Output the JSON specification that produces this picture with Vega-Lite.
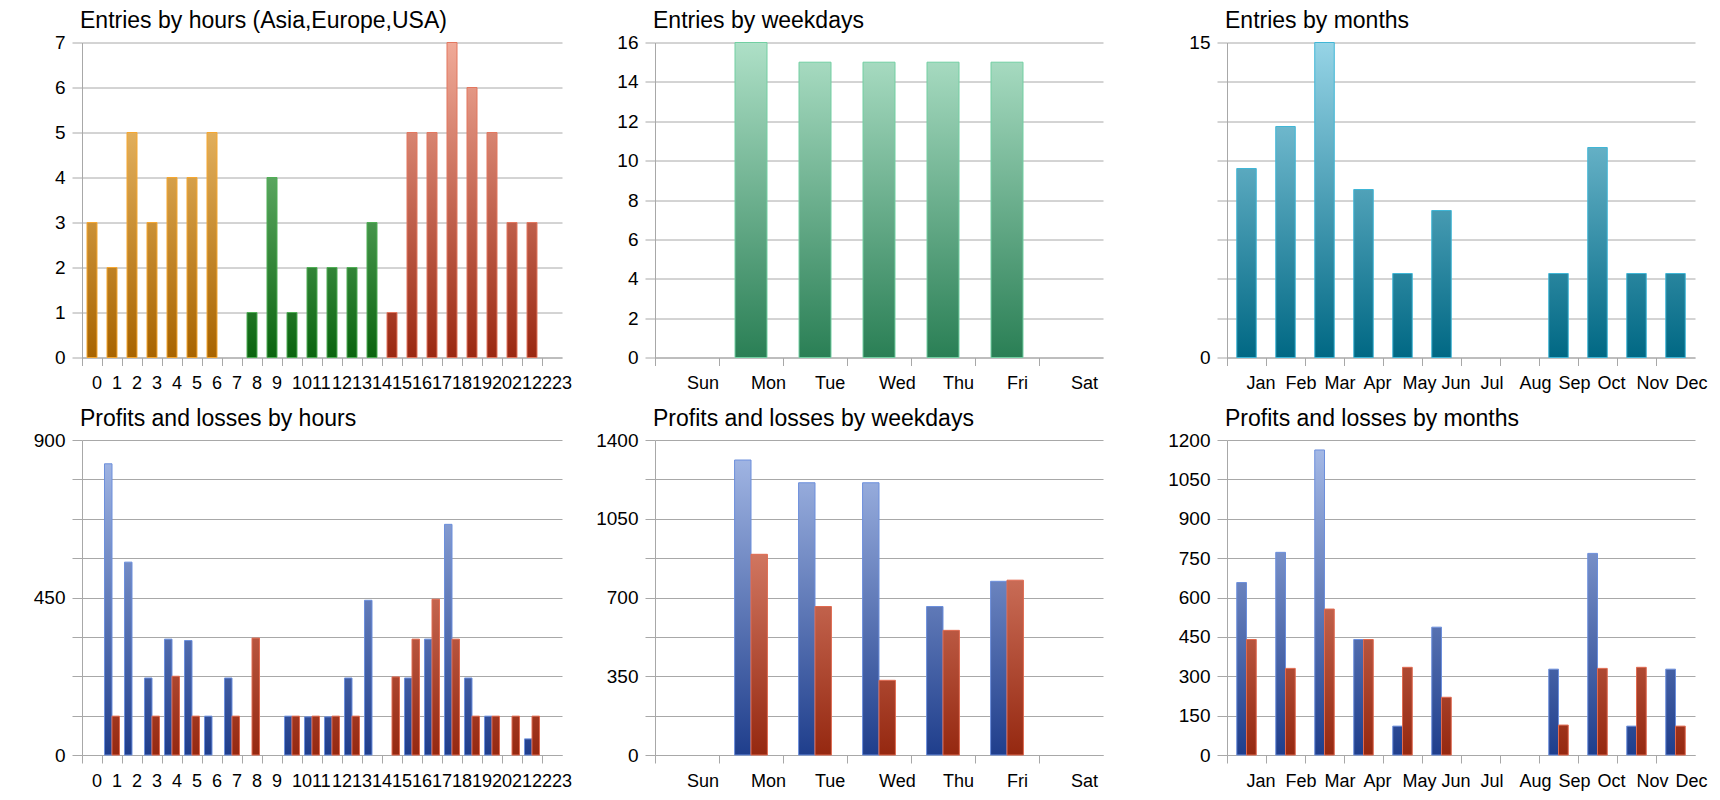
{
  "$schema": "https://vega.github.io/schema/vega-lite/v6.json",
  "background": "white",
  "padding": {"left": 0, "top": 9.5, "right": 0, "bottom": 0},
  "autosize": {"type": "pad"},
  "columns": 3,
  "spacing": {"row": 9.5, "column": 10},
  "align": "each",
  "bounds": "full",
  "resolve": {"scale": {"stroke": "independent", "xOffset": "independent"}},
  "config": {
    "view": {"stroke": null},
    "font": "Liberation Sans",
    "axis": {
      "labelFont": "Liberation Sans",
      "labelColor": "#000000",
      "gridColor": "#a8a8a8",
      "domainColor": "#a8a8a8",
      "tickColor": "#a8a8a8",
      "gridWidth": 1,
      "domainWidth": 1,
      "tickWidth": 1
    },
    "title": {
      "font": "Liberation Sans",
      "fontSize": 23,
      "fontWeight": "normal",
      "color": "#000000",
      "anchor": "start",
      "frame": "group",
      "baseline": "alphabetic",
      "offset": 0.5,
      "dx": -2
    }
  },
  "concat": [
    {
      "title": "Entries by hours (Asia,Europe,USA)",
      "width": 480,
      "height": 315,
      "data": {"values": [
        {"hour": 0, "entries": 3, "region": "Asia"},
        {"hour": 1, "entries": 2, "region": "Asia"},
        {"hour": 2, "entries": 5, "region": "Asia"},
        {"hour": 3, "entries": 3, "region": "Asia"},
        {"hour": 4, "entries": 4, "region": "Asia"},
        {"hour": 5, "entries": 4, "region": "Asia"},
        {"hour": 6, "entries": 5, "region": "Asia"},
        {"hour": 7, "entries": 0, "region": "Europe"},
        {"hour": 8, "entries": 1, "region": "Europe"},
        {"hour": 9, "entries": 4, "region": "Europe"},
        {"hour": 10, "entries": 1, "region": "Europe"},
        {"hour": 11, "entries": 2, "region": "Europe"},
        {"hour": 12, "entries": 2, "region": "Europe"},
        {"hour": 13, "entries": 2, "region": "Europe"},
        {"hour": 14, "entries": 3, "region": "Europe"},
        {"hour": 15, "entries": 1, "region": "USA"},
        {"hour": 16, "entries": 5, "region": "USA"},
        {"hour": 17, "entries": 5, "region": "USA"},
        {"hour": 18, "entries": 7, "region": "USA"},
        {"hour": 19, "entries": 6, "region": "USA"},
        {"hour": 20, "entries": 5, "region": "USA"},
        {"hour": 21, "entries": 3, "region": "USA"},
        {"hour": 22, "entries": 3, "region": "USA"},
        {"hour": 23, "entries": 0, "region": "USA"}
      ]},
      "transform": [{"filter": "datum.entries > 0"}],
      "mark": {
        "type": "bar",
        "width": {"band": 0.5},
        "strokeWidth": 1,
        "fill": {"expr": "{gradient: 'linear', x1: 0, x2: 0, y1: 1 - 7 / datum.entries, y2: 1, stops: datum.region == 'Asia' ? [{offset: 0, color: '#f8cc80'}, {offset: 1, color: '#a86400'}] : datum.region == 'Europe' ? [{offset: 0, color: '#95d69b'}, {offset: 1, color: '#0b640f'}] : [{offset: 0, color: '#f0aa98'}, {offset: 1, color: '#9a2812'}]}"}
      },
      "encoding": {
        "x": {
          "field": "hour", "type": "ordinal",
          "scale": {"domain": [0,1,2,3,4,5,6,7,8,9,10,11,12,13,14,15,16,17,18,19,20,21,22,23], "paddingInner": 0, "paddingOuter": 0},
          "axis": {"title": null, "bandPosition": 0, "labelAlign": "left", "labelDx": 4, "labelAngle": 0, "labelOverlap": false, "labelFontSize": 18, "tickSize": 8, "labelPadding": 9, "grid": false, "minExtent": 40}
        },
        "y": {
          "field": "entries", "type": "quantitative",
          "scale": {"domain": [0, 7], "nice": false},
          "axis": {"title": null, "values": [0,1,2,3,4,5,6,7], "format": "d", "labelFontSize": 19, "tickSize": 10, "labelPadding": 7, "minExtent": 82}
        },
        "stroke": {
          "field": "region", "type": "nominal",
          "scale": {"domain": ["Asia", "Europe", "USA"], "range": ["#f5a731", "#4fae55", "#e3775f"]},
          "legend": null
        }
      }
    },
    {
      "title": "Entries by weekdays",
      "width": 448,
      "height": 315,
      "data": {"values": [
        {"day": "Sun", "entries": 0},
        {"day": "Mon", "entries": 16},
        {"day": "Tue", "entries": 15},
        {"day": "Wed", "entries": 15},
        {"day": "Thu", "entries": 15},
        {"day": "Fri", "entries": 15},
        {"day": "Sat", "entries": 0}
      ]},
      "transform": [{"filter": "datum.entries > 0"}],
      "mark": {
        "type": "bar",
        "width": {"band": 0.5},
        "strokeWidth": 1,
        "stroke": "#72cfa2",
        "fill": {"expr": "{gradient: 'linear', x1: 0, x2: 0, y1: 1 - 16 / datum.entries, y2: 1, stops: [{offset: 0, color: '#aee0c7'}, {offset: 1, color: '#2a7f55'}]}"}
      },
      "encoding": {
        "x": {
          "field": "day", "type": "ordinal",
          "scale": {"domain": ["Sun", "Mon", "Tue", "Wed", "Thu", "Fri", "Sat"], "paddingInner": 0, "paddingOuter": 0},
          "axis": {"title": null, "bandPosition": 0, "labelAlign": "left", "labelDx": 18, "labelAngle": 0, "labelOverlap": false, "labelFontSize": 18, "tickSize": 8, "labelPadding": 9, "grid": false, "minExtent": 40}
        },
        "y": {
          "field": "entries", "type": "quantitative",
          "scale": {"domain": [0, 16], "nice": false},
          "axis": {"title": null, "values": [0,2,4,6,8,10,12,14,16], "format": "d", "labelFontSize": 19, "tickSize": 10, "labelPadding": 7, "minExtent": 73}
        }
      }
    },
    {
      "title": "Entries by months",
      "width": 468,
      "height": 315,
      "data": {"values": [
        {"month": "Jan", "entries": 9},
        {"month": "Feb", "entries": 11},
        {"month": "Mar", "entries": 15},
        {"month": "Apr", "entries": 8},
        {"month": "May", "entries": 4},
        {"month": "Jun", "entries": 7},
        {"month": "Jul", "entries": 0},
        {"month": "Aug", "entries": 0},
        {"month": "Sep", "entries": 4},
        {"month": "Oct", "entries": 10},
        {"month": "Nov", "entries": 4},
        {"month": "Dec", "entries": 4}
      ]},
      "transform": [{"filter": "datum.entries > 0"}],
      "mark": {
        "type": "bar",
        "width": {"band": 0.5},
        "strokeWidth": 1,
        "stroke": "#40b6d6",
        "fill": {"expr": "{gradient: 'linear', x1: 0, x2: 0, y1: 1 - 15 / datum.entries, y2: 1, stops: [{offset: 0, color: '#96d4e6'}, {offset: 1, color: '#006884'}]}"}
      },
      "encoding": {
        "x": {
          "field": "month", "type": "ordinal",
          "scale": {"domain": ["Jan", "Feb", "Mar", "Apr", "May", "Jun", "Jul", "Aug", "Sep", "Oct", "Nov", "Dec"], "paddingInner": 0, "paddingOuter": 0},
          "axis": {"title": null, "bandPosition": 0, "labelAlign": "left", "labelDx": 12, "labelAngle": 0, "labelOverlap": false, "labelFontSize": 18, "tickSize": 8, "labelPadding": 9, "grid": false, "minExtent": 40}
        },
        "y": {
          "field": "entries", "type": "quantitative",
          "scale": {"domain": [0, 15], "nice": false},
          "axis": {"title": null, "values": [0,1.875,3.75,5.625,7.5,9.375,11.25,13.125,15], "labelExpr": "datum.value == 0 || datum.value == 15 ? format(datum.value, 'd') : ''", "labelFontSize": 19, "tickSize": 10, "labelPadding": 7, "minExtent": 113.5}
        }
      }
    },
    {
      "title": "Profits and losses by hours",
      "width": 480,
      "height": 315,
      "data": {"values": [
        {"hour": 1, "type": "profit", "amount": 832},
        {"hour": 1, "type": "loss", "amount": 111},
        {"hour": 2, "type": "profit", "amount": 551},
        {"hour": 3, "type": "profit", "amount": 220},
        {"hour": 3, "type": "loss", "amount": 111},
        {"hour": 4, "type": "profit", "amount": 331},
        {"hour": 4, "type": "loss", "amount": 225},
        {"hour": 5, "type": "profit", "amount": 327},
        {"hour": 5, "type": "loss", "amount": 111},
        {"hour": 6, "type": "profit", "amount": 111},
        {"hour": 7, "type": "profit", "amount": 220},
        {"hour": 7, "type": "loss", "amount": 111},
        {"hour": 8, "type": "loss", "amount": 334},
        {"hour": 10, "type": "profit", "amount": 111},
        {"hour": 10, "type": "loss", "amount": 111},
        {"hour": 11, "type": "profit", "amount": 109},
        {"hour": 11, "type": "loss", "amount": 111},
        {"hour": 12, "type": "profit", "amount": 109},
        {"hour": 12, "type": "loss", "amount": 111},
        {"hour": 13, "type": "profit", "amount": 220},
        {"hour": 13, "type": "loss", "amount": 111},
        {"hour": 14, "type": "profit", "amount": 442},
        {"hour": 15, "type": "loss", "amount": 223},
        {"hour": 16, "type": "profit", "amount": 220},
        {"hour": 16, "type": "loss", "amount": 331},
        {"hour": 17, "type": "profit", "amount": 331},
        {"hour": 17, "type": "loss", "amount": 445},
        {"hour": 18, "type": "profit", "amount": 659},
        {"hour": 18, "type": "loss", "amount": 331},
        {"hour": 19, "type": "profit", "amount": 220},
        {"hour": 19, "type": "loss", "amount": 111},
        {"hour": 20, "type": "profit", "amount": 111},
        {"hour": 20, "type": "loss", "amount": 111},
        {"hour": 21, "type": "loss", "amount": 111},
        {"hour": 22, "type": "profit", "amount": 46},
        {"hour": 22, "type": "loss", "amount": 111}
      ]},
      "mark": {
        "type": "bar",
        "strokeWidth": 1,
        "fill": {"expr": "{gradient: 'linear', x1: 0, x2: 0, y1: 1 - 900 / datum.amount, y2: 1, stops: datum.type == 'profit' ? [{offset: 0, color: '#a8bce8'}, {offset: 1, color: '#1f3e8c'}] : [{offset: 0, color: '#f2a28e'}, {offset: 1, color: '#952810'}]}"}
      },
      "encoding": {
        "x": {
          "field": "hour", "type": "ordinal",
          "scale": {"domain": [0,1,2,3,4,5,6,7,8,9,10,11,12,13,14,15,16,17,18,19,20,21,22,23], "paddingInner": 0, "paddingOuter": 0},
          "axis": {"title": null, "bandPosition": 0, "labelAlign": "left", "labelDx": 4, "labelAngle": 0, "labelOverlap": false, "labelFontSize": 18, "tickSize": 8, "labelPadding": 9, "grid": false, "minExtent": 40}
        },
        "xOffset": {
          "field": "type", "type": "nominal",
          "scale": {"domain": ["profit", "loss"], "paddingInner": 0, "paddingOuter": 0.333}
        },
        "y": {
          "field": "amount", "type": "quantitative",
          "scale": {"domain": [0, 900], "nice": false},
          "axis": {"title": null, "values": [0,112.5,225,337.5,450,562.5,675,787.5,900], "labelExpr": "datum.value % 450 == 0 ? format(datum.value, 'd') : ''", "labelFontSize": 19, "tickSize": 10, "labelPadding": 7, "minExtent": 82}
        },
        "stroke": {
          "field": "type", "type": "nominal",
          "scale": {"domain": ["profit", "loss"], "range": ["#6c8fdc", "#e06a50"]},
          "legend": null
        }
      }
    },
    {
      "title": "Profits and losses by weekdays",
      "width": 448,
      "height": 315,
      "data": {"values": [
        {"day": "Mon", "type": "profit", "amount": 1311},
        {"day": "Mon", "type": "loss", "amount": 892},
        {"day": "Tue", "type": "profit", "amount": 1210},
        {"day": "Tue", "type": "loss", "amount": 660},
        {"day": "Wed", "type": "profit", "amount": 1210},
        {"day": "Wed", "type": "loss", "amount": 332},
        {"day": "Thu", "type": "profit", "amount": 660},
        {"day": "Thu", "type": "loss", "amount": 554},
        {"day": "Fri", "type": "profit", "amount": 772},
        {"day": "Fri", "type": "loss", "amount": 777}
      ]},
      "mark": {
        "type": "bar",
        "strokeWidth": 1,
        "fill": {"expr": "{gradient: 'linear', x1: 0, x2: 0, y1: 1 - 1400 / datum.amount, y2: 1, stops: datum.type == 'profit' ? [{offset: 0, color: '#a8bce8'}, {offset: 1, color: '#1f3e8c'}] : [{offset: 0, color: '#f2a28e'}, {offset: 1, color: '#952810'}]}"}
      },
      "encoding": {
        "x": {
          "field": "day", "type": "ordinal",
          "scale": {"domain": ["Sun", "Mon", "Tue", "Wed", "Thu", "Fri", "Sat"], "paddingInner": 0, "paddingOuter": 0},
          "axis": {"title": null, "bandPosition": 0, "labelAlign": "left", "labelDx": 18, "labelAngle": 0, "labelOverlap": false, "labelFontSize": 18, "tickSize": 8, "labelPadding": 9, "grid": false, "minExtent": 40}
        },
        "xOffset": {
          "field": "type", "type": "nominal",
          "scale": {"domain": ["profit", "loss"], "paddingInner": 0, "paddingOuter": 0.95}
        },
        "y": {
          "field": "amount", "type": "quantitative",
          "scale": {"domain": [0, 1400], "nice": false},
          "axis": {"title": null, "values": [0,175,350,525,700,875,1050,1225,1400], "labelExpr": "datum.value % 350 == 0 ? format(datum.value, 'd') : ''", "labelFontSize": 19, "tickSize": 10, "labelPadding": 7, "minExtent": 73}
        },
        "stroke": {
          "field": "type", "type": "nominal",
          "scale": {"domain": ["profit", "loss"], "range": ["#6c8fdc", "#e06a50"]},
          "legend": null
        }
      }
    },
    {
      "title": "Profits and losses by months",
      "width": 468,
      "height": 315,
      "data": {"values": [
        {"month": "Jan", "type": "profit", "amount": 657},
        {"month": "Jan", "type": "loss", "amount": 440},
        {"month": "Feb", "type": "profit", "amount": 772},
        {"month": "Feb", "type": "loss", "amount": 330},
        {"month": "Mar", "type": "profit", "amount": 1162},
        {"month": "Mar", "type": "loss", "amount": 556},
        {"month": "Apr", "type": "profit", "amount": 440},
        {"month": "Apr", "type": "loss", "amount": 440},
        {"month": "May", "type": "profit", "amount": 110},
        {"month": "May", "type": "loss", "amount": 334},
        {"month": "Jun", "type": "profit", "amount": 487},
        {"month": "Jun", "type": "loss", "amount": 220},
        {"month": "Sep", "type": "profit", "amount": 327},
        {"month": "Sep", "type": "loss", "amount": 114},
        {"month": "Oct", "type": "profit", "amount": 768},
        {"month": "Oct", "type": "loss", "amount": 330},
        {"month": "Nov", "type": "profit", "amount": 110},
        {"month": "Nov", "type": "loss", "amount": 334},
        {"month": "Dec", "type": "profit", "amount": 327},
        {"month": "Dec", "type": "loss", "amount": 110}
      ]},
      "mark": {
        "type": "bar",
        "strokeWidth": 1,
        "fill": {"expr": "{gradient: 'linear', x1: 0, x2: 0, y1: 1 - 1200 / datum.amount, y2: 1, stops: datum.type == 'profit' ? [{offset: 0, color: '#a8bce8'}, {offset: 1, color: '#1f3e8c'}] : [{offset: 0, color: '#f2a28e'}, {offset: 1, color: '#952810'}]}"}
      },
      "encoding": {
        "x": {
          "field": "month", "type": "ordinal",
          "scale": {"domain": ["Jan", "Feb", "Mar", "Apr", "May", "Jun", "Jul", "Aug", "Sep", "Oct", "Nov", "Dec"], "paddingInner": 0, "paddingOuter": 0},
          "axis": {"title": null, "bandPosition": 0, "labelAlign": "left", "labelDx": 12, "labelAngle": 0, "labelOverlap": false, "labelFontSize": 18, "tickSize": 8, "labelPadding": 9, "grid": false, "minExtent": 40}
        },
        "xOffset": {
          "field": "type", "type": "nominal",
          "scale": {"domain": ["profit", "loss"], "paddingInner": 0, "paddingOuter": 1}
        },
        "y": {
          "field": "amount", "type": "quantitative",
          "scale": {"domain": [0, 1200], "nice": false},
          "axis": {"title": null, "values": [0,150,300,450,600,750,900,1050,1200], "format": "d", "labelFontSize": 19, "tickSize": 10, "labelPadding": 7, "minExtent": 113.5}
        },
        "stroke": {
          "field": "type", "type": "nominal",
          "scale": {"domain": ["profit", "loss"], "range": ["#6c8fdc", "#e06a50"]},
          "legend": null
        }
      }
    }
  ]
}
